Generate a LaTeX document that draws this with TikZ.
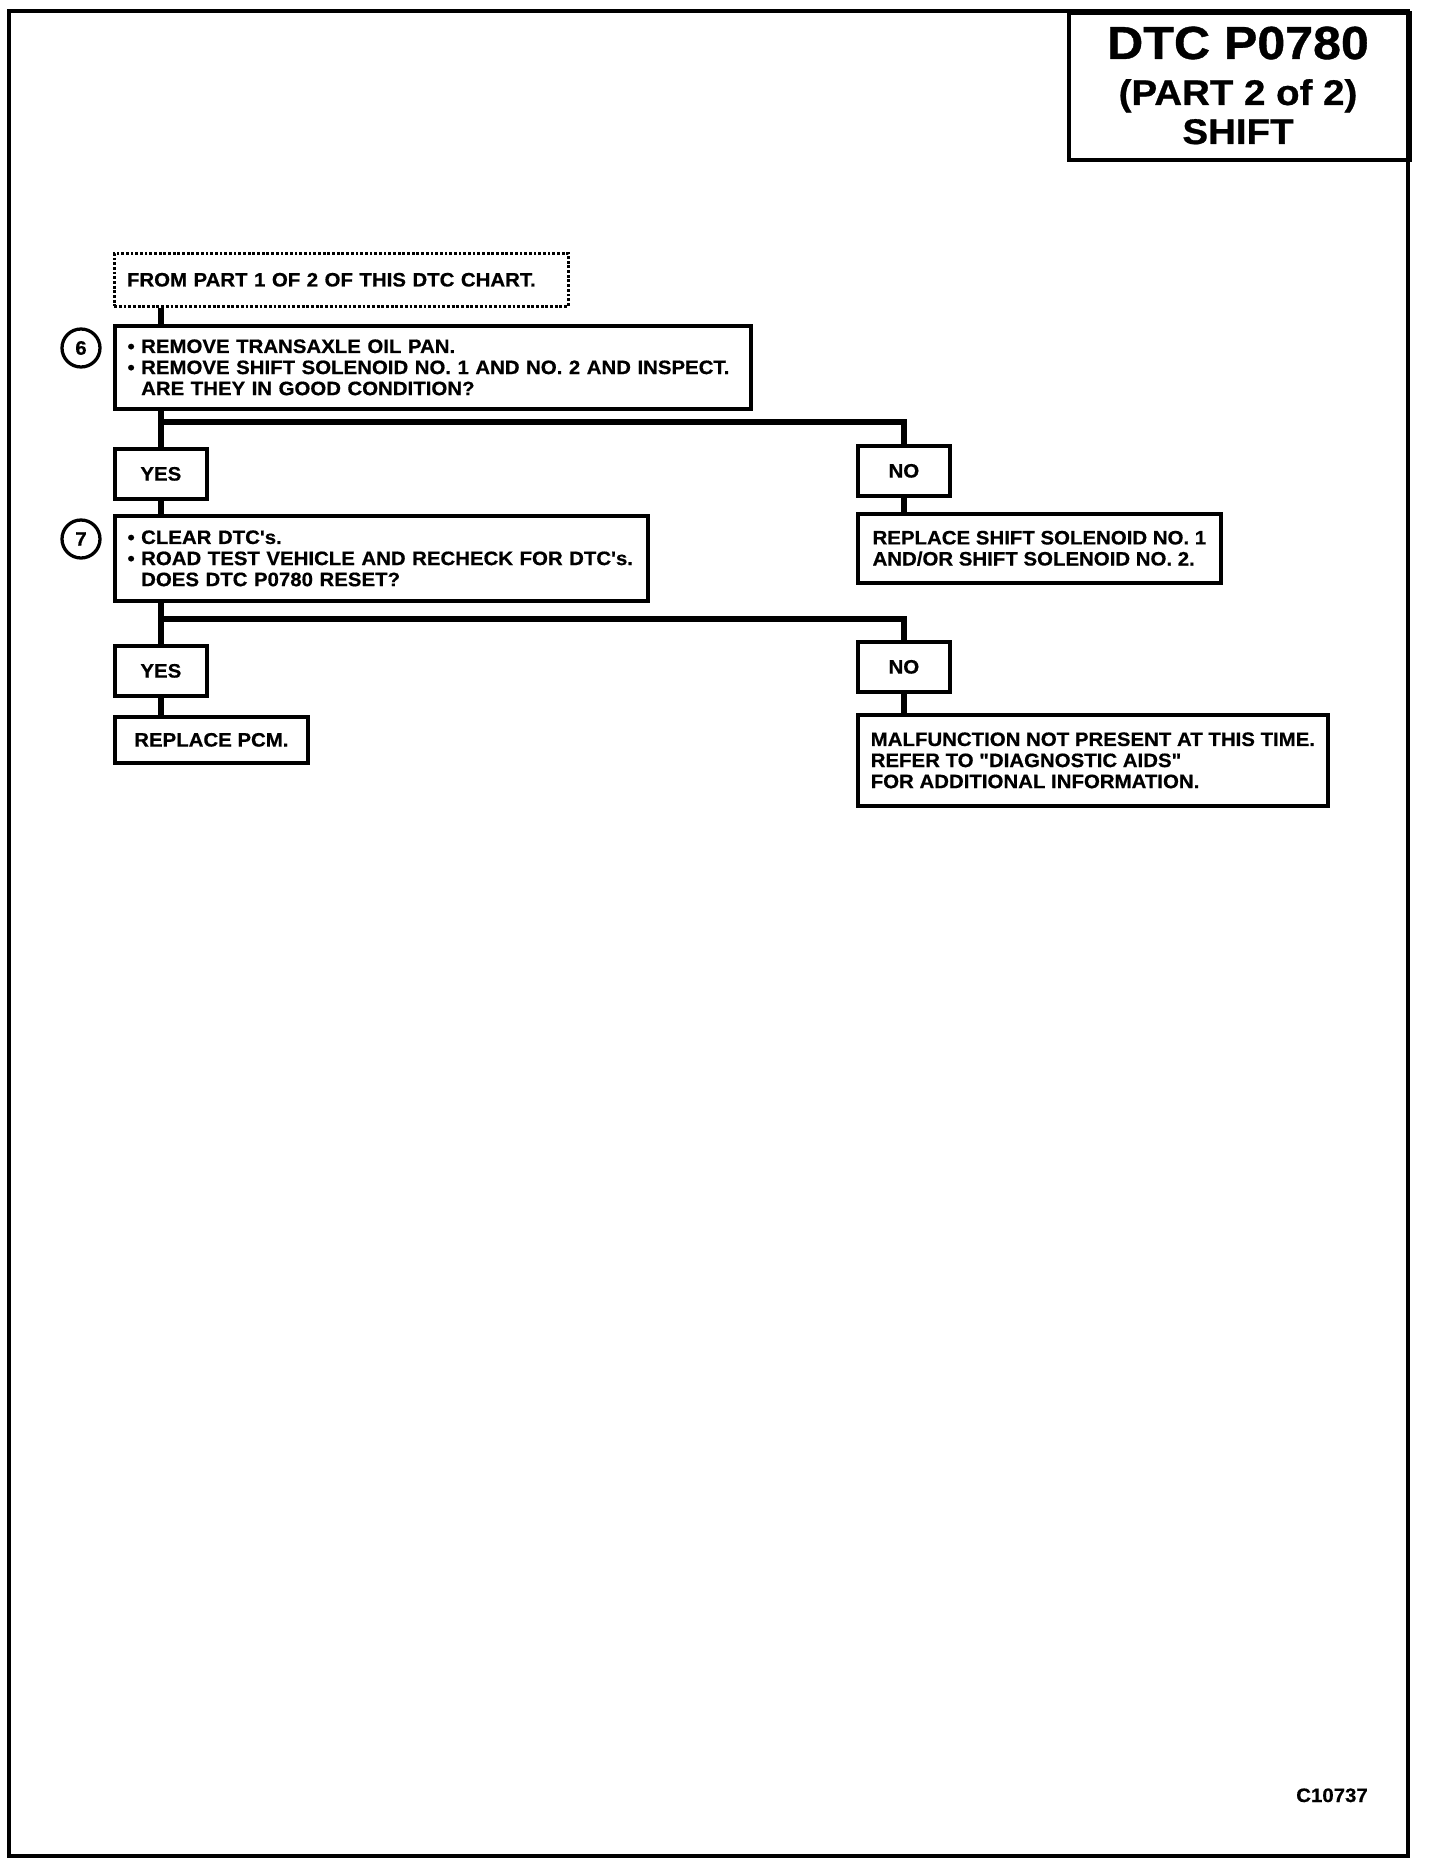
\documentclass[tikz,border=0pt]{standalone}
\usepackage{fontspec}
\newfontfamily\chartfont[FakeStretch=1.05, FakeBold=0.6]{Liberation Sans}
\newfontfamily\titlefont[FakeStretch=1.08, FakeBold=0.8]{Liberation Sans}
\newcommand{\chartbody}{\chartfont\bfseries\fontsize{8.3}{9}\selectfont}
\tikzset{
  stepbox/.style={draw, line width=1.6pt, anchor=north west, align=left, inner sep=0pt, font=\chartbody},
  answer/.style={stepbox, align=center, minimum width=1.38cm, minimum height=0.75cm},
  stepnum/.style={draw, circle, line width=1.4pt, minimum size=0.57cm, inner sep=0pt, font=\chartbody},
  link/.style={line width=2.6pt},
}
\begin{document}
\begin{tikzpicture}[x=0.015cm, y=-0.015cm]
\useasboundingbox (0,0) rectangle (1440,1866);

% Drawing page frame and title block
\draw[line width=1.8pt] (9,11) rectangle (1408,1856);
\node[draw, line width=1.8pt, anchor=north west, minimum width=5.115cm, minimum height=2.205cm, inner sep=0pt] (titlebox) at (1067,11) {};
\node[anchor=base, font=\titlefont\bfseries\fontsize{19.8}{22}\selectfont] (titleA) at (1238,59) {DTC P0780};
\node[anchor=base, font=\titlefont\bfseries\fontsize{15.2}{18}\selectfont] (titleB) at (1238,105) {(PART 2 of 2)};
\node[anchor=base, font=\titlefont\bfseries\fontsize{15.2}{18}\selectfont] (titleC) at (1238,144) {SHIFT};

% Drawing steps
\node[stepbox, line width=1.1pt, dash pattern=on 1.2pt off 0.8pt, minimum width=6.81cm, minimum height=0.795cm, text width=6.43cm, inner xsep=0.19cm] (from) at (113,252) {FROM PART 1 OF 2 OF THIS DTC CHART.};
\node[stepbox, minimum width=9.54cm, minimum height=1.245cm, text width=9.16cm, inner xsep=0.19cm] (stepsix) at (113,324)
  {\textbullet\ REMOVE TRANSAXLE OIL PAN.\\
   \mbox{\textbullet\ REMOVE SHIFT SOLENOID NO. 1 AND NO. 2 AND INSPECT.}\\
   \phantom{\textbullet\ }ARE THEY IN GOOD CONDITION?};
\node[stepnum] (numsix) at (81,348) {6};
\node[answer] (yesA) at (113,447) {YES};
\node[answer] (noA) at (856,444) {NO};
\node[stepbox, minimum width=7.995cm, minimum height=1.275cm, text width=7.615cm, inner xsep=0.19cm] (stepseven) at (113,514)
  {\textbullet\ CLEAR DTC's.\\
   \mbox{\textbullet\ ROAD TEST VEHICLE AND RECHECK FOR DTC's.}\\
   \phantom{\textbullet\ }DOES DTC P0780 RESET?};
\node[stepnum] (numseven) at (81,539) {7};
\node[stepbox, minimum width=5.445cm, minimum height=1.035cm] (fixsol) at (856,512)
  {REPLACE SHIFT SOLENOID NO. 1\\ AND/OR SHIFT SOLENOID NO. 2.};
\node[answer] (yesB) at (113,644) {YES};
\node[answer] (noB) at (856,640) {NO};
\node[stepbox, minimum width=2.895cm, minimum height=0.69cm] (fixpcm) at (113,715) {REPLACE PCM.};
\node[stepbox, minimum width=7.05cm, minimum height=1.365cm] (nofault) at (856,713)
  {MALFUNCTION NOT PRESENT AT THIS TIME.\\ REFER TO "DIAGNOSTIC AIDS"\\ FOR ADDITIONAL INFORMATION.};

% Drawing connectors
\coordinate (forkA) at (159,422);
\coordinate (forkB) at (159,619);
\draw[link] (from.south -| yesA) -- (stepsix.north -| yesA);
\draw[link] (stepsix.south -| yesA) -- (yesA.north);
\draw[link] (forkA) -| (noA.north);
\draw[link] (yesA.south) -- (stepseven.north -| yesA);
\draw[link] (noA.south) -- (fixsol.north -| noA);
\draw[link] (stepseven.south -| yesB) -- (yesB.north);
\draw[link] (forkB) -| (noB.north);
\draw[link] (yesB.south) -- (fixpcm.north -| yesB);
\draw[link] (noB.south) -- (nofault.north -| noB);

\node[anchor=base, font=\chartbody] (figno) at (1332,1802) {C10737};
\end{tikzpicture}
\end{document}
